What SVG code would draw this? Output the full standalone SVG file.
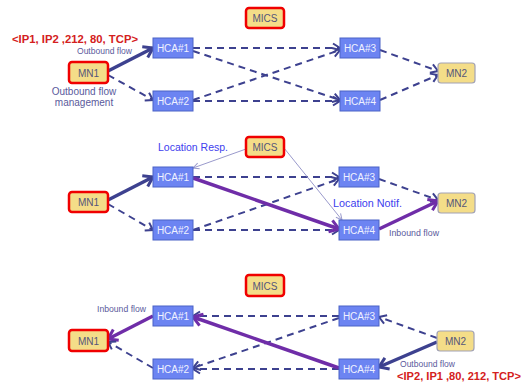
<svg xmlns="http://www.w3.org/2000/svg" width="530" height="385" viewBox="0 0 530 385">
<style>
.hca rect{fill:#6c84f2;stroke:#4b62c6;stroke-width:1}
.hca text{fill:#f0f2ff;font-family:"Liberation Sans",Arial,sans-serif;font-size:10px;text-anchor:middle}
.mn rect{fill:#f4dd88;stroke:#f00000;stroke-width:2.5}
.mn.plain rect{stroke:#a2a2b4;stroke-width:1.2}
.mn text{fill:#55557a;font-family:"Liberation Sans",Arial,sans-serif;font-size:10px;text-anchor:middle}
.d{fill:none;stroke:#3d418f;stroke-width:2;stroke-dasharray:7 5;marker-end:url(#ad)}
.b{fill:none;stroke:#3d418f;stroke-width:3.5;marker-end:url(#ab)}
.p{fill:none;stroke:#6f2da8;stroke-width:3.5;marker-end:url(#ap)}
.t{fill:none;stroke:#9a9acc;stroke-width:1;marker-end:url(#at)}
.red{fill:#d42020;font-family:"Liberation Sans",Arial,sans-serif;font-weight:bold;font-size:11px}
.sm{fill:#5a5a9c;font-family:"Liberation Sans",Arial,sans-serif;font-size:8.5px}
.md{fill:#5a5a9c;font-family:"Liberation Sans",Arial,sans-serif;font-size:10px;text-anchor:middle}
.loc{fill:#4040ee;font-family:"Liberation Sans",Arial,sans-serif;font-size:11.5px}
</style>
<defs>
<marker id="ad" markerUnits="userSpaceOnUse" viewBox="0 0 12 12" markerWidth="12" markerHeight="12" refX="10" refY="6" orient="auto"><path d="M3,1.5 L10,6 L3,10.5" fill="none" stroke="#3d418f" stroke-width="2"/></marker>
<marker id="ab" markerUnits="userSpaceOnUse" viewBox="0 0 16 16" markerWidth="16" markerHeight="16" refX="13" refY="8" orient="auto"><path d="M4,2 L13,8 L4,14" fill="none" stroke="#3d418f" stroke-width="3"/></marker>
<marker id="ap" markerUnits="userSpaceOnUse" viewBox="0 0 16 16" markerWidth="16" markerHeight="16" refX="13" refY="8" orient="auto"><path d="M4,2 L13,8 L4,14" fill="none" stroke="#6f2da8" stroke-width="3"/></marker>
<marker id="at" markerUnits="userSpaceOnUse" viewBox="0 0 10 10" markerWidth="10" markerHeight="10" refX="9" refY="5" orient="auto"><path d="M3,2 L9,5 L3,8" fill="none" stroke="#9a9acc" stroke-width="1"/></marker>
</defs>
<rect width="530" height="385" fill="#ffffff"/>

<g id="connectors">
<!-- panel 1 -->
<path class="b" d="M108,71 L153,48"/>
<path class="d" d="M108,75 L153,100"/>
<path class="d" d="M193,48 L340,48"/>
<path class="d" d="M193,51 L340,100"/>
<path class="d" d="M193,100 L340,50"/>
<path class="d" d="M193,101 L340,101"/>
<path class="d" d="M380,50 L438,71"/>
<path class="d" d="M380,100 L438,75"/>
<!-- panel 2 -->
<path class="b" d="M108,200 L153,177"/>
<path class="d" d="M108,204 L153,230"/>
<path class="d" d="M193,177 L339,177"/>
<path class="d" d="M193,230 L339,179"/>
<path class="d" d="M193,230 L339,230"/>
<path class="p" d="M193,178 L339,229"/>
<path class="d" d="M379,179 L438,200"/>
<path class="p" d="M379,229 L438,201"/>
<path class="t" d="M246,149 L193,168"/>
<path class="t" d="M284,148 L342,220"/>
<!-- panel 3 -->
<path class="p" d="M153,316 L108,339"/>
<path class="d" d="M153,368 L108,342"/>
<path class="d" d="M339,316 L193,316"/>
<path class="d" d="M339,318 L193,368"/>
<path class="d" d="M339,369 L193,369"/>
<path class="p" d="M339,368 L193,317"/>
<path class="d" d="M437,338 L379,317"/>
<path class="b" d="M437,342 L379,367"/>
</g>

<!-- panel 1 nodes -->
<g id="p1-mics" class="mn"><rect x="246" y="8" width="38" height="20" rx="3"/><text x="265" y="22">MICS</text></g>
<g id="p1-mn1" class="mn"><rect x="69" y="62" width="39" height="21" rx="3"/><text x="88.5" y="76.5">MN1</text></g>
<g id="p1-mn2" class="mn plain"><rect x="438" y="63" width="37" height="20" rx="3"/><text x="456.5" y="77">MN2</text></g>
<g id="p1-hca1" class="hca"><rect x="153" y="38" width="40" height="20"/><text x="173" y="52">HCA#1</text></g>
<g id="p1-hca2" class="hca"><rect x="153" y="91" width="40" height="20"/><text x="173" y="105">HCA#2</text></g>
<g id="p1-hca3" class="hca"><rect x="340" y="38" width="40" height="20"/><text x="360" y="52">HCA#3</text></g>
<g id="p1-hca4" class="hca"><rect x="340" y="91" width="40" height="20"/><text x="360" y="105">HCA#4</text></g>

<!-- panel 2 nodes -->
<g id="p2-mics" class="mn"><rect x="246" y="137" width="38" height="20" rx="3"/><text x="265" y="151">MICS</text></g>
<g id="p2-mn1" class="mn"><rect x="69" y="192" width="39" height="20" rx="3"/><text x="88.5" y="206">MN1</text></g>
<g id="p2-mn2" class="mn plain"><rect x="438" y="193" width="37" height="20" rx="3"/><text x="456.5" y="207">MN2</text></g>
<g id="p2-hca1" class="hca"><rect x="153" y="167" width="40" height="20"/><text x="173" y="181">HCA#1</text></g>
<g id="p2-hca2" class="hca"><rect x="153" y="220" width="40" height="20"/><text x="173" y="234">HCA#2</text></g>
<g id="p2-hca3" class="hca"><rect x="339" y="167" width="40" height="20"/><text x="359" y="181">HCA#3</text></g>
<g id="p2-hca4" class="hca"><rect x="339" y="220" width="40" height="20"/><text x="359" y="234">HCA#4</text></g>

<!-- panel 3 nodes -->
<g id="p3-mics" class="mn"><rect x="246" y="275" width="38" height="21" rx="3"/><text x="265" y="289.5">MICS</text></g>
<g id="p3-mn1" class="mn"><rect x="69" y="330" width="39" height="21" rx="3"/><text x="88.5" y="344.5">MN1</text></g>
<g id="p3-mn2" class="mn plain"><rect x="437" y="331" width="37" height="20" rx="3"/><text x="455.5" y="345">MN2</text></g>
<g id="p3-hca1" class="hca"><rect x="153" y="306" width="40" height="20"/><text x="173" y="320">HCA#1</text></g>
<g id="p3-hca2" class="hca"><rect x="153" y="359" width="40" height="20"/><text x="173" y="373">HCA#2</text></g>
<g id="p3-hca3" class="hca"><rect x="339" y="306" width="40" height="20"/><text x="359" y="320">HCA#3</text></g>
<g id="p3-hca4" class="hca"><rect x="339" y="359" width="40" height="20"/><text x="359" y="373">HCA#4</text></g>

<g id="labels">
<text class="red" x="12" y="43" textLength="126" lengthAdjust="spacingAndGlyphs">&lt;IP1, IP2 ,212, 80, TCP&gt;</text>
<text class="sm" x="77" y="54" textLength="55" lengthAdjust="spacingAndGlyphs">Outbound flow</text>
<text class="md" x="84" y="95">Outbound flow</text>
<text class="md" x="84" y="106">management</text>
<text class="loc" x="158" y="151" textLength="70" lengthAdjust="spacingAndGlyphs">Location Resp.</text>
<text class="loc" x="333" y="207" textLength="69" lengthAdjust="spacingAndGlyphs">Location Notif.</text>
<text class="sm" x="389" y="236" textLength="50" lengthAdjust="spacingAndGlyphs">Inbound flow</text>
<text class="sm" x="97" y="312" textLength="49" lengthAdjust="spacingAndGlyphs">Inbound flow</text>
<text class="sm" x="400" y="367" textLength="55" lengthAdjust="spacingAndGlyphs">Outbound flow</text>
<text class="red" x="397" y="380" textLength="124" lengthAdjust="spacingAndGlyphs">&lt;IP2, IP1 ,80, 212, TCP&gt;</text>
</g>
</svg>
